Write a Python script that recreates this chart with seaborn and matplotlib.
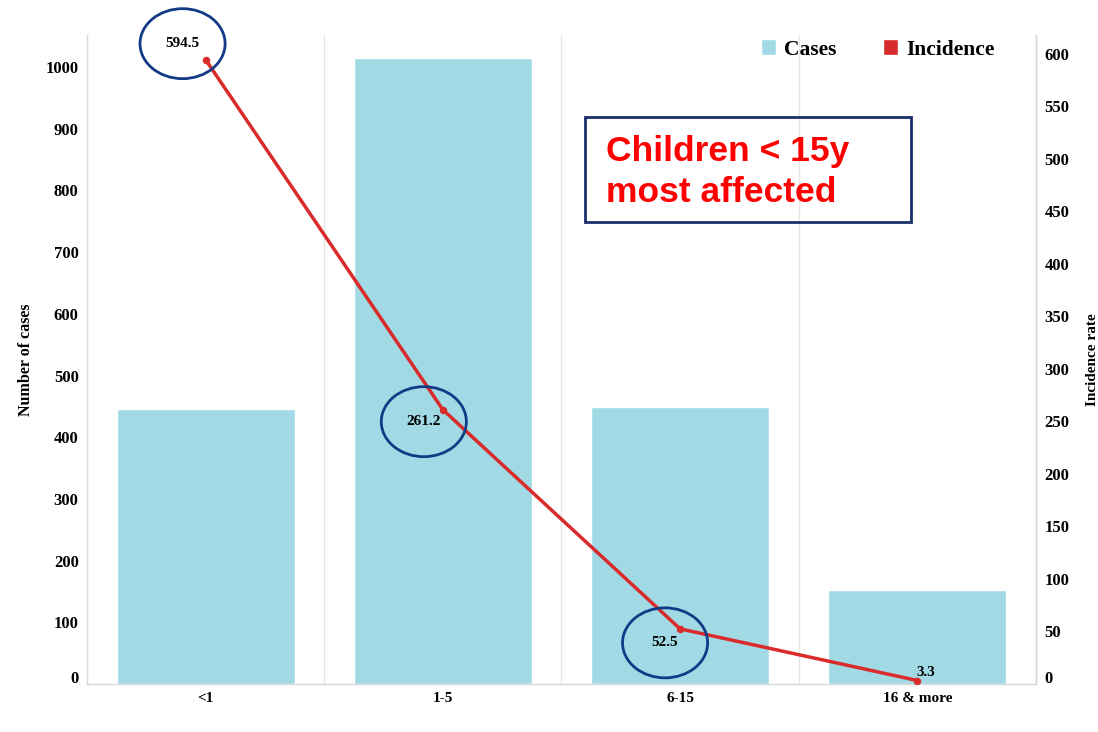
import matplotlib
matplotlib.use("Agg")
import matplotlib.pyplot as plt
from matplotlib.patches import Ellipse, Rectangle, Patch
from matplotlib.transforms import ScaledTranslation
import seaborn as sns
import pandas as pd

# Age groups, case counts and incidence rate per age group
age_groups = ["<1", "1-5", "6-15", "16 & more"]
cases = [446, 1015, 449, 152]
incidence = [594.5, 261.2, 52.5, 3.3]
left_ticks = list(range(0, 1001, 100))
right_ticks = list(range(0, 601, 50))

# label offsets (pixels) relative to each incidence point
label_offsets = [(-23, 16), (-19, -12), (-15, -14), (8, 8)]
circled = [True, True, True, False]

BAR_COLOR = "#a1dae4"
LINE_COLOR = "#d92b2b"
NAVY = "#123a86"
SERIF = "Liberation Serif"

df = pd.DataFrame({"age": age_groups, "cases": cases, "incidence": incidence})

sns.set_theme(style="white")
plt.rcParams["font.family"] = [SERIF, "DejaVu Serif"]
plt.rcParams["text.color"] = "black"
plt.rcParams["axes.labelcolor"] = "black"
plt.rcParams["xtick.color"] = "black"
plt.rcParams["ytick.color"] = "black"

fig = plt.figure(figsize=(10.98, 7.32), dpi=100)
ax = fig.add_axes([0.0792, 0.0656, 0.8643, 0.8866])

sns.barplot(data=df, x="age", y="cases", order=age_groups, color=BAR_COLOR,
            saturation=1, width=0.75, ax=ax)

ax2 = ax.twinx()
sns.pointplot(data=df, x="age", y="incidence", order=age_groups, color=LINE_COLOR,
              markers="o", markersize=3.5, linewidth=2.5, ax=ax2)

for a in (ax, ax2):
    a.set_xlim(-0.5, 3.5)
ax.set_ylim(0, 1052)
ax2.set_ylim(0, 618)

# category boundary guides
for b in [-0.5, 0.5, 1.5, 2.5, 3.5]:
    ax.axvline(b, color="#e6e6e6", lw=1, zorder=0)

ax.set_yticks(left_ticks)
ax.set_yticklabels([str(t) for t in left_ticks], fontsize=12, fontweight="bold")
ax2.set_yticks(right_ticks)
ax2.set_yticklabels([str(t) for t in right_ticks], fontsize=12, fontweight="bold")
ax.set_xticks(range(len(age_groups)))
ax.set_xticklabels(age_groups, fontsize=11, fontweight="bold")
ax.tick_params(axis="both", length=0, pad=6, colors="black")
ax2.tick_params(axis="y", length=0, pad=6, colors="black")

# lift the zero labels slightly above the baseline
lift = ScaledTranslation(0, 7 / 100, fig.dpi_scale_trans)
for lab in (ax.get_yticklabels()[0], ax2.get_yticklabels()[0]):
    lab.set_transform(lab.get_transform() + lift)

ax.set_xlabel("")
ax.set_ylabel("Number of cases", fontsize=11.5, fontweight="bold", labelpad=8, color="black")
ax2.set_ylabel("Incidence rate", fontsize=11, fontweight="bold", labelpad=12, color="black")

for a in (ax, ax2):
    a.spines["top"].set_visible(False)
    for s in ["left", "right", "bottom"]:
        a.spines[s].set_color("#d9d9d9")
        a.spines[s].set_linewidth(1)
ax2.spines["left"].set_visible(False)
ax2.spines["bottom"].set_visible(False)

# value labels and highlight ellipses
px_x = 237.0  # pixels per category
px_y = 649.0 / 618.0  # pixels per incidence unit
for i, (v, (dx, dy), c) in enumerate(zip(incidence, label_offsets, circled)):
    ax2.annotate(f"{v}", xy=(i, v), xytext=(dx * 0.72, dy * 0.72),
                 textcoords="offset points", ha="center", va="center",
                 fontsize=11, fontweight="bold", color="black", annotation_clip=False)
    if c:
        e = Ellipse((i + dx / px_x, v + dy / px_y), width=85 / px_x, height=70 / px_y,
                    fill=False, edgecolor=NAVY, lw=2, zorder=5, clip_on=False)
        ax2.add_patch(e)

# legend
handles = [Patch(facecolor=BAR_COLOR, label="Cases"), Patch(facecolor=LINE_COLOR, label="Incidence")]
leg = ax.legend(handles=handles, loc="upper right", bbox_to_anchor=(0.9765, 1.023), ncol=2,
                frameon=False, prop={"family": SERIF, "weight": "bold", "size": 15.5},
                handlelength=0.7, handleheight=0.7, handletextpad=0.35, columnspacing=2.2)
for t in leg.get_texts():
    t.set_color("black")

# callout box
fig.patches.append(Rectangle((585 / 1098, 1 - 222 / 732), 326 / 1098, 105 / 732,
                             transform=fig.transFigure, fill=False, edgecolor="#1a2f6b", lw=2))
fig.text(606 / 1098, 1 - 172 / 732, "Children < 15y\nmost affected", color="#ff0000",
         fontsize=25.5, fontweight="bold", family="Liberation Sans", ha="left", va="center",
         linespacing=1.3)

fig.savefig("out.png", dpi=100)
